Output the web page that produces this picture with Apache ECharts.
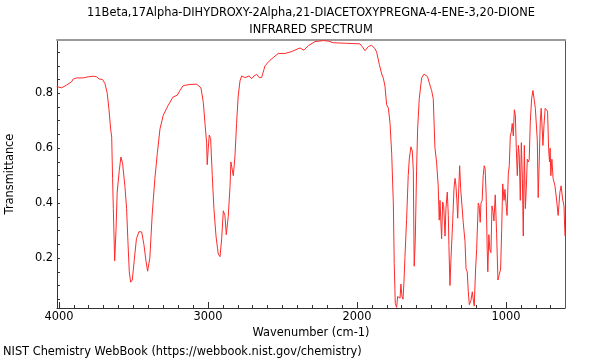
<!DOCTYPE html>
<html>
<head>
<meta charset="utf-8">
<script src="https://cdn.jsdelivr.net/npm/echarts@6/dist/echarts.min.js"></script>
<style>html,body{margin:0;padding:0;background:#fff}#c{width:600px;height:360px}</style>
</head>
<body>
<div id="c"></div>
<script>
const titleLines = ["11Beta,17Alpha-DIHYDROXY-2Alpha,21-DIACETOXYPREGNA-4-ENE-3,20-DIONE", "INFRARED SPECTRUM"];
const xName = "Wavenumber (cm-1)";
const yName = "Transmittance";
const footer = "NIST Chemistry WebBook (https://webbook.nist.gov/chemistry)";

const xMajor = [1000, 2000, 3000, 4000];
const xMinor = [700, 800, 900, 1000, 1100, 1200, 1300, 1400, 1500, 1600, 1700, 1800, 1900, 2000, 2100, 2200, 2300, 2400, 2500, 2600, 2700, 2800, 2900, 3000, 3100, 3200, 3300, 3400, 3500, 3600, 3700, 3800, 3900, 4000];
const yLabels = [0.2, 0.4, 0.6, 0.8];
const yTicks = [0.05, 0.1, 0.15, 0.2, 0.25, 0.3, 0.35, 0.4, 0.45, 0.5, 0.55, 0.6, 0.65, 0.7, 0.75, 0.8, 0.85, 0.9, 0.95];

const wavenumber = [4015,3982,3948,3915,3904,3881,3837,3803,3770,3748,3730,3707,3691,3676,3664,3653,3646,3640,3635,3626,3617,3609,3595,3584,3573,3557,3546,3537,3528,3519,3508,3495,3480,3463,3445,3430,3416,3405,3390,3374,3356,3340,3322,3300,3267,3235,3206,3188,3166,3121,3076,3047,3031,3020,3009,3005,2998,2991,2982,2971,2960,2946,2931,2919,2908,2897,2886,2877,2864,2852,2846,2834,2830,2819,2808,2797,2785,2774,2752,2723,2707,2691,2673,2656,2640,2617,2584,2562,2528,2483,2438,2383,2356,2327,2282,2226,2193,2159,2070,1980,1965,1946,1924,1902,1879,1868,1850,1834,1823,1812,1801,1789,1778,1767,1756,1750,1743,1734,1727,1718,1711,1705,1698,1691,1685,1678,1667,1656,1649,1638,1629,1622,1616,1609,1600,1593,1582,1566,1550,1537,1526,1515,1505,1499,1488,1477,1466,1455,1448,1443,1436,1432,1425,1418,1409,1403,1394,1387,1383,1376,1369,1358,1349,1342,1336,1329,1324,1317,1311,1304,1295,1287,1275,1268,1260,1253,1246,1235,1226,1220,1213,1204,1197,1186,1180,1173,1168,1160,1153,1146,1140,1133,1126,1122,1115,1108,1101,1094,1087,1081,1072,1063,1054,1045,1036,1029,1022,1013,1007,1000,993,984,978,971,964,958,951,944,937,931,924,917,911,904,897,890,884,877,870,864,857,850,844,837,828,819,810,803,797,790,784,777,770,764,757,752,745,737,728,721,714,708,704,699,692,684,672,661,650,638,630,620,611,604];
const transmittance = [0.824,0.82,0.83,0.842,0.852,0.856,0.856,0.86,0.862,0.86,0.852,0.85,0.835,0.80,0.74,0.67,0.64,0.49,0.38,0.19,0.30,0.44,0.52,0.568,0.545,0.46,0.38,0.26,0.15,0.112,0.12,0.19,0.27,0.296,0.295,0.25,0.19,0.152,0.20,0.36,0.49,0.58,0.67,0.72,0.756,0.786,0.793,0.81,0.828,0.832,0.833,0.82,0.766,0.69,0.62,0.54,0.60,0.648,0.635,0.50,0.38,0.28,0.215,0.205,0.27,0.372,0.355,0.285,0.35,0.46,0.55,0.545,0.50,0.568,0.69,0.79,0.845,0.863,0.857,0.863,0.853,0.863,0.869,0.857,0.857,0.90,0.92,0.93,0.945,0.945,0.952,0.965,0.957,0.973,0.988,0.992,0.99,0.984,0.982,0.98,0.97,0.955,0.97,0.975,0.962,0.95,0.905,0.87,0.855,0.825,0.758,0.746,0.69,0.58,0.40,0.18,0.035,0.02,0.06,0.066,0.054,0.105,0.06,0.05,0.108,0.205,0.34,0.50,0.56,0.605,0.59,0.52,0.17,0.26,0.52,0.67,0.78,0.856,0.87,0.87,0.86,0.838,0.82,0.81,0.78,0.603,0.55,0.465,0.338,0.41,0.404,0.27,0.404,0.39,0.28,0.38,0.44,0.355,0.246,0.10,0.20,0.33,0.452,0.49,0.465,0.404,0.345,0.452,0.536,0.452,0.446,0.33,0.26,0.16,0.15,0.077,0.03,0.046,0.077,0.05,0.025,0.16,0.23,0.40,0.39,0.33,0.40,0.41,0.50,0.536,0.525,0.43,0.23,0.15,0.285,0.23,0.22,0.39,0.37,0.335,0.43,0.29,0.12,0.14,0.16,0.30,0.47,0.41,0.45,0.40,0.355,0.51,0.536,0.645,0.66,0.69,0.645,0.74,0.72,0.60,0.50,0.61,0.575,0.41,0.62,0.49,0.28,0.61,0.38,0.45,0.56,0.55,0.56,0.695,0.78,0.81,0.805,0.745,0.745,0.63,0.42,0.55,0.695,0.745,0.67,0.61,0.684,0.745,0.75,0.735,0.60,0.55,0.60,0.50,0.56,0.49,0.465,0.415,0.355,0.44,0.463,0.415,0.39,0.28];

const X_MIN = 604, X_MAX = 4013, Y_MIN = 0.018, Y_MAX = 0.994;
const FONT = "DejaVu Sans";
const FS = 11.4;
const points = wavenumber.map((w, i) => [w, transmittance[i]]);

const chart = echarts.init(document.getElementById('c'), null, {renderer: 'canvas'});
chart.setOption({
  animation: false,
  backgroundColor: '#fff',
  textStyle: {fontFamily: FONT},
  grid: {left: 57, right: 35, top: 40, bottom: 52, containLabel: false, outerBoundsMode: 'none'},
  graphic: [
    {type: 'text', x: 311, y: 13, style: {text: titleLines[0], font: FS + 'px "DejaVu Sans"', fill: '#000', textAlign: 'center', textVerticalAlign: 'middle'}},
    {type: 'text', x: 311, y: 30, style: {text: titleLines[1], font: FS + 'px "DejaVu Sans"', fill: '#000', textAlign: 'center', textVerticalAlign: 'middle'}},
    {type: 'text', x: 3, y: 352, style: {text: footer, font: FS + 'px "DejaVu Sans"', fill: '#000', textAlign: 'left', textVerticalAlign: 'middle'}}
  ],
  xAxis: [
    {type: 'value', inverse: true, min: X_MIN, max: X_MAX, position: 'bottom',
     axisLine: {show: true, onZero: false, lineStyle: {color: '#333', width: 1}},
     axisTick: {show: true, inside: true, length: 3, customValues: xMinor, lineStyle: {color: '#333'}},
     axisLabel: {show: true, customValues: xMajor, formatter: v => String(v), color: '#000', fontSize: FS, fontFamily: FONT, margin: 4},
     splitLine: {show: false},
     name: xName, nameLocation: 'middle', nameGap: 18, nameTextStyle: {color: '#000', fontSize: FS, fontFamily: FONT}},
    {type: 'value', inverse: true, min: X_MIN, max: X_MAX, position: 'bottom',
     axisLine: {show: false},
     axisTick: {show: true, inside: true, length: 6, customValues: xMajor, lineStyle: {color: '#333'}},
     axisLabel: {show: false}, splitLine: {show: false}},
    {type: 'value', inverse: true, min: X_MIN, max: X_MAX, position: 'top',
     axisLine: {show: true, onZero: false, lineStyle: {color: '#9a9a9a', width: 2}},
     axisTick: {show: false}, axisLabel: {show: false}, splitLine: {show: false}}
  ],
  yAxis: [
    {type: 'value', min: Y_MIN, max: Y_MAX, position: 'left',
     axisLine: {show: true, onZero: false, lineStyle: {color: '#333', width: 1}},
     axisTick: {show: true, inside: true, length: 3, customValues: yTicks, lineStyle: {color: '#333'}},
     axisLabel: {show: true, customValues: yLabels, formatter: v => v.toFixed(1), color: '#000', fontSize: FS, fontFamily: FONT, margin: 4},
     splitLine: {show: false},
     name: yName, nameLocation: 'middle', nameGap: 41, nameTextStyle: {color: '#000', fontSize: FS, fontFamily: FONT}},
    {type: 'value', min: Y_MIN, max: Y_MAX, position: 'right',
     axisLine: {show: true, onZero: false, lineStyle: {color: '#555', width: 1}},
     axisTick: {show: false}, axisLabel: {show: false}, splitLine: {show: false}}
  ],
  series: [{
    type: 'line', xAxisIndex: 0, yAxisIndex: 0, data: points,
    showSymbol: false, symbol: 'none', smooth: false, clip: true,
    lineStyle: {color: '#ff2a2a', width: 1}
  }]
});
</script>
</body>
</html>
